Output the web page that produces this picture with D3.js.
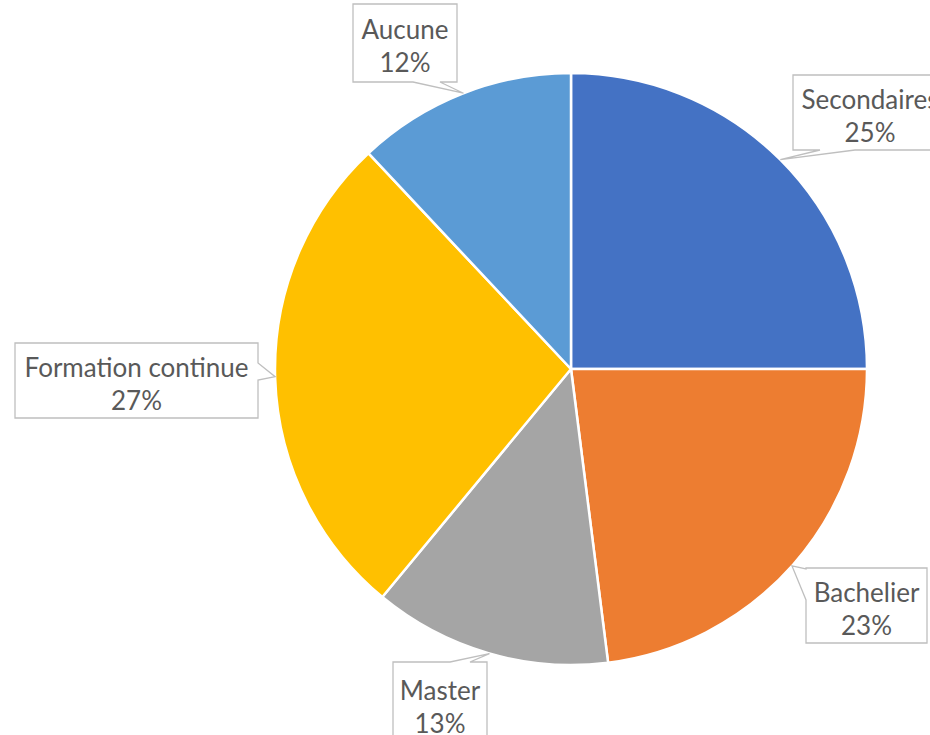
<!DOCTYPE html>
<html><head><meta charset="utf-8">
<script src="https://cdn.jsdelivr.net/npm/d3@7"></script>
<style>body{margin:0;background:#fff;}svg{display:block;}</style>
</head><body>
<svg id="c" width="930" height="735"></svg>
<script>
const categories = ["Secondaires", "Bachelier", "Master", "Formation continue", "Aucune"];
const values = [25, 23, 13, 27, 12];
const labels = ["25%", "23%", "13%", "27%", "12%"];
const colors = ["#4472C4", "#ED7D31", "#A5A5A5", "#FFC000", "#5B9BD5"];

// label box layout: [x0, y0, x1, y1], notch side, notch range, tip angle (deg)
const boxLayout = [
  {box:[793,75,947,150], side:"bottom", n:[820,855], tipDeg:45},
  {box:[806,568,927,643], side:"left", n:[569,600], tipDeg:131.7},
  {box:[393,662,487,745], side:"top", n:[450,470], tipDeg:196},
  {box:[15,343,258,418], side:"right", n:[363,380], tipDeg:268.5},
  {box:[353,4,457,82], side:"bottom", n:[413,440], tipDeg:338.7}
];

const W = 930, H = 735, cx = 571, cy = 369, R = 296;
const svg = d3.select("#c");
const g = svg.append("g").attr("transform", `translate(${cx},${cy})`);

const pie = d3.pie().value(d => d).sort(null);
const arcs = pie(values);
const arc = d3.arc().innerRadius(0).outerRadius(R);

g.selectAll("path.slice").data(arcs).enter().append("path")
  .attr("class","slice")
  .attr("d", arc)
  .attr("fill", (d,i) => colors[i])
  .attr("stroke", "#fff")
  .attr("stroke-width", 2.5)
  .attr("stroke-linejoin","round");

function calloutPath(b, side, n, tip) {
  const [x0,y0,x1,y1] = b;
  const p = [];
  p.push([x0,y0]);
  if (side==="top") { p.push([n[0],y0],[tip[0],tip[1]],[n[1],y0]); }
  p.push([x1,y0]);
  if (side==="right") { p.push([x1,n[0]],[tip[0],tip[1]],[x1,n[1]]); }
  p.push([x1,y1]);
  if (side==="bottom") { p.push([n[1],y1],[tip[0],tip[1]],[n[0],y1]); }
  p.push([x0,y1]);
  if (side==="left") { p.push([x0,n[1]],[tip[0],tip[1]],[x0,n[0]]); }
  return "M" + p.map(q => q.join(",")).join("L") + "Z";
}

const lg = svg.append("g");
categories.forEach((c, i) => {
  const L = boxLayout[i];
  const a = L.tipDeg * Math.PI / 180;
  const tip = [cx + R * Math.sin(a), cy - R * Math.cos(a)];
  lg.append("path")
    .attr("d", calloutPath(L.box, L.side, L.n, tip))
    .attr("fill", "#fff")
    .attr("stroke", "#BFBFBF")
    .attr("stroke-width", 1.3);
  const mx = (L.box[0] + L.box[2]) / 2;
  const my = (L.box[1] + L.box[3]) / 2;
  const t = lg.append("text")
    .attr("text-anchor","middle")
    .attr("font-family","Lato, 'Open Sans', sans-serif")
    .attr("font-size", 26)
    .attr("fill","#595959");
  t.append("tspan").attr("x", mx).attr("y", my - 4).text(c);
  t.append("tspan").attr("x", mx).attr("y", my + 29).text(labels[i]);
});
</script>
</body></html>
